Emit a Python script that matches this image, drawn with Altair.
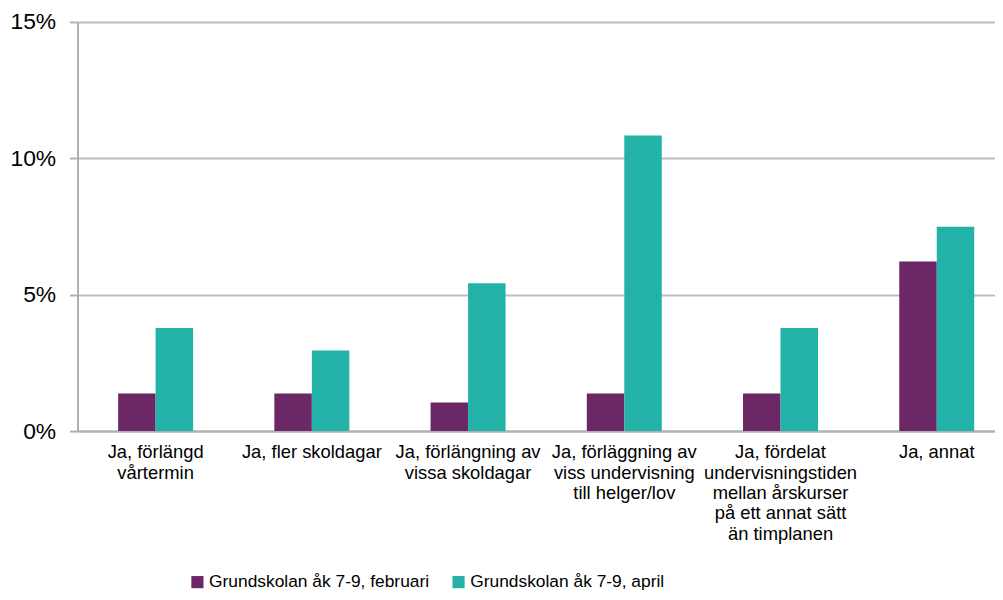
import altair as alt
import pandas as pd

categories = [
    "Ja, förlängd\nvårtermin",
    "Ja, fler skoldagar",
    "Ja, förlängning av\nvissa skoldagar",
    "Ja, förläggning av\nviss undervisning\ntill helger/lov",
    "Ja, fördelat\nundervisningstiden\nmellan årskurser\npå ett annat sätt\nän timplanen",
    "Ja, annat",
]
series = ["Grundskolan åk 7-9, februari", "Grundskolan åk 7-9, april"]
feb = [0.0138, 0.0138, 0.0105, 0.0138, 0.0138, 0.0622]
apr = [0.0378, 0.0295, 0.0542, 0.1084, 0.0378, 0.0749]
colors = ["#6C2767", "#23B2A7"]

rows = []
for c, v in zip(categories, feb):
    rows.append({"kategori": c, "serie": series[0], "värde": v})
for c, v in zip(categories, apr):
    rows.append({"kategori": c, "serie": series[1], "värde": v})
df = pd.DataFrame(rows)

chart = alt.Chart(df).mark_bar().encode(
    x=alt.X(
        "kategori:N",
        sort=categories,
        scale=alt.Scale(range=[0, 944], paddingInner=0.52, paddingOuter=0.26),
        axis=alt.Axis(
            title=None,
            labelAngle=0,
            labelExpr="split(datum.label, '\\n')",
            labelFont="Liberation Sans",
            labelFontSize=18.5,
            labelColor="#000000",
            labelLineHeight=20.5,
            labelPadding=12,
            labelBaseline="top",
            labelLimit=0,
            ticks=False,
            domainColor="#B0B0B0",
            domainWidth=2,
            grid=False,
        ),
    ),
    xOffset=alt.XOffset("serie:N", sort=series),
    y=alt.Y(
        "värde:Q",
        scale=alt.Scale(domain=[0, 0.15], nice=False),
        axis=alt.Axis(
            title=None,
            values=[0, 0.05, 0.10, 0.15],
            format=".0%",
            labelFont="Liberation Sans",
            labelFontSize=23,
            labelColor="#000000",
            labelPadding=14,
            tickSize=8,
            tickColor="#B0B0B0",
            tickWidth=2,
            domainColor="#B0B0B0",
            domainWidth=2,
            gridColor="#BDBDBD",
            gridWidth=2,
        ),
    ),
    color=alt.Color(
        "serie:N",
        sort=series,
        scale=alt.Scale(domain=series, range=colors),
        legend=alt.Legend(
            title=None,
            orient="none",
            direction="horizontal",
            legendX=112,
            legendY=555,
            symbolType="square",
            symbolSize=150,
            symbolStrokeWidth=0,
            labelFont="Liberation Sans",
            labelFontSize=17.5,
            labelColor="#000000",
            labelOffset=3,
            labelLimit=0,
            columnPadding=20,
            padding=0,
        ),
    ),
).properties(
    width=924,
    height=412,
    autosize=alt.AutoSizeParams(type="none"),
    padding={"left": 70, "top": 12, "right": 0, "bottom": 160},
).configure_view(stroke=None).configure_axis(labelOverlap=False)

chart.save("out.html", embed_options={"renderer": "svg", "actions": False})
